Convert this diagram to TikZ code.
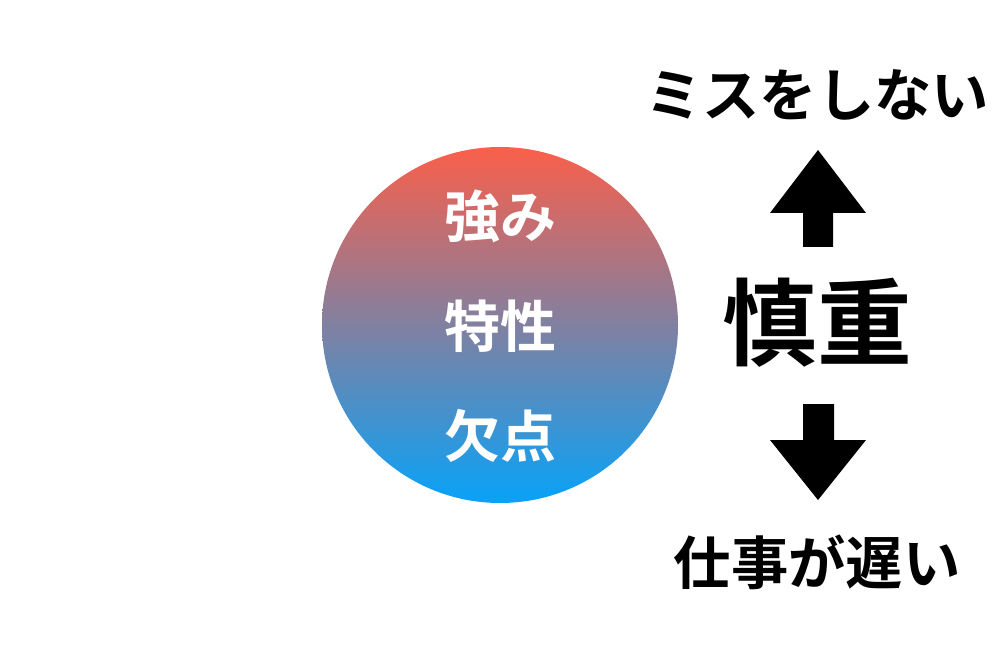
\documentclass[tikz,border=0pt]{standalone}
\usepackage{fontspec}
\newfontfamily\jp{Noto Sans CJK JP}[BoldFont={Noto Sans CJK JP Bold}]
\definecolor{topred}{HTML}{FA5F4A}
\definecolor{botblue}{HTML}{08A2F8}
\begin{document}
\begin{tikzpicture}[x=0.75pt, y=-0.75pt]
        \useasboundingbox (0,0) rectangle (1000,656);
        % Nodes
        \node[circle, minimum size=267pt, inner sep=0pt, top color=topred, bottom color=botblue] (C) at (500, 325) {};
        \node[text=white, font=\jp\bfseries\fontsize{42}{42}\selectfont] (S) at (500, 216) {強み};
        \node[text=white, font=\jp\bfseries\fontsize{42}{42}\selectfont] (T) at (500, 326) {特性};
        \node[text=white, font=\jp\bfseries\fontsize{42}{42}\selectfont] (W) at (500, 436) {欠点};
        \node[font=\jp\bfseries\fontsize{43}{43}\selectfont] (U) at (817, 95) {ミスをしない};
        \node[font=\jp\bfseries\fontsize{71}{71}\selectfont] (K) at (817, 323) {慎重};
        \node[font=\jp\bfseries\fontsize{43}{43}\selectfont] (D) at (817, 562) {仕事が遅い};
    
        % Arrows
        \fill (818,150) -- (866,213) -- (833,213) -- (833,247) -- (803,247) -- (803,213) -- (770,213) -- cycle;
        \fill (818,500) -- (866,440) -- (834,440) -- (834,404) -- (803,404) -- (803,440) -- (770,440) -- cycle;
    \end{tikzpicture}
\end{document}
